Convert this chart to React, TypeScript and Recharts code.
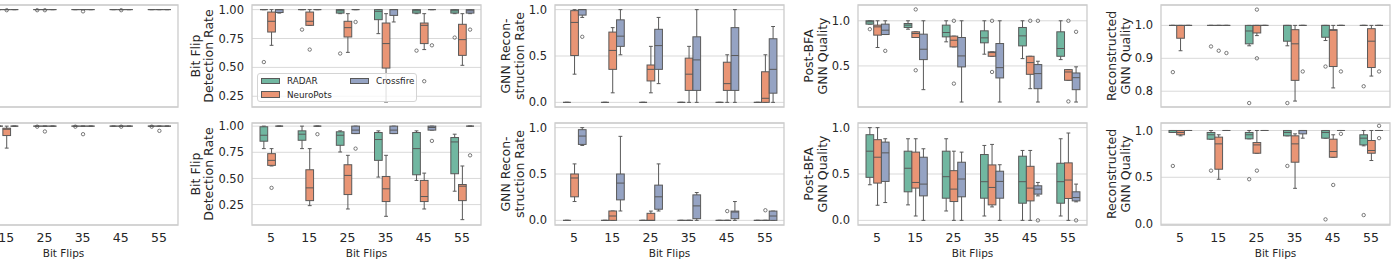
import React from 'react';
import { ComposedChart, Bar, XAxis, YAxis, CartesianGrid, ReferenceArea } from 'recharts';

// box stats per flip count: [whisker low, q1, median, q3, whisker high, fliers]
type Box = [number, number, number, number, number, number[]];

const FLIPS = ['5', '15', '25', '35', '45', '55'];
const SERIES = ['RADAR', 'NeuroPots', 'Crossfire'];
const COLORS = ['#71b7a1', '#e99575', '#95a3c3'];

const FONT = '"DejaVu Sans", sans-serif';
const TEXT = '#262626';
const INK = '#595959';
const GRID = '#d9d9d9';
const EDGE = '#cccccc';
const BOX_W = 7.7;

// column 0 (cut off at the left edge)
const c0TopRadar: Box[] = [[1, 1, 1, 1, 1, []], [1, 1, 1, 1, 1, []], [1, 1, 1, 1, 1, [0.995]], [1, 1, 1, 1, 1, []], [1, 1, 1, 1, 1, []], [1, 1, 1, 1, 1, []]];
const c0TopNeuro: Box[] = [[1, 1, 1, 1, 1, []], [1, 1, 1, 1, 1, [0.995]], [1, 1, 1, 1, 1, [0.995]], [1, 1, 1, 1, 1, [0.985]], [1, 1, 1, 1, 1, [0.995]], [1, 1, 1, 1, 1, []]];
const c0TopCross: Box[] = [[1, 1, 1, 1, 1, []], [1, 1, 1, 1, 1, []], [1, 1, 1, 1, 1, []], [1, 1, 1, 1, 1, []], [1, 1, 1, 1, 1, []], [1, 1, 1, 1, 1, []]];
const c0BotRadar: Box[] = [[1, 1, 1, 1, 1, []], [1, 1, 1, 1, 1, []], [1, 1, 1, 1, 1, [0.995]], [1, 1, 1, 1, 1, [0.995]], [1, 1, 1, 1, 1, []], [1, 1, 1, 1, 1, [0.995]]];
const c0BotNeuro: Box[] = [[1, 1, 1, 1, 1, []], [0.79, 0.91, 0.97, 0.98, 1, []], [1, 1, 1, 1, 1, [0.949]], [1, 1, 1, 1, 1, [0.923]], [1, 1, 1, 1, 1, [0.995]], [1, 1, 1, 1, 1, [0.955]]];
const c0BotCross: Box[] = [[1, 1, 1, 1, 1, []], [1, 1, 1, 1, 1, []], [1, 1, 1, 1, 1, []], [1, 1, 1, 1, 1, []], [1, 1, 1, 1, 1, []], [1, 1, 1, 1, 1, []]];

// Bit Flip Detection Rate
const detTopRadar: Box[] = [[1, 1, 1, 1, 1, [0.546]], [1, 1, 1, 1, 1, [0.827]], [0.965, 0.97, 0.99, 1, 1, [0.62]], [0.792, 0.913, 0.985, 1, 1, []], [0.965, 0.97, 0.99, 1, 1, [0.645]], [0.965, 0.97, 0.99, 1, 1, [0.758]]];
const detTopNeuro: Box[] = [[0.691, 0.806, 0.899, 0.979, 1, []], [0.864, 0.864, 0.899, 0.979, 1, [0.654]], [0.63, 0.763, 0.844, 0.899, 0.965, []], [0.2, 0.494, 0.706, 0.884, 0.965, []], [0.654, 0.706, 0.864, 0.884, 0.965, [0.38]], [0.518, 0.604, 0.74, 0.873, 0.965, []]];
const detTopCross: Box[] = [[0.97, 0.975, 1, 1, 1, []], [1, 1, 1, 1, 1, []], [1, 1, 1, 1, 1, [0.893]], [0.893, 0.95, 1, 1, 1, []], [1, 1, 1, 1, 1, [0.691]], [0.965, 0.97, 0.99, 1, 1, [0.827]]];
const detBotRadar: Box[] = [[0.785, 0.856, 0.913, 0.994, 1, []], [0.785, 0.865, 0.923, 0.955, 1, []], [0.753, 0.817, 0.913, 0.946, 0.955, []], [0.513, 0.673, 0.872, 0.939, 0.955, []], [0.481, 0.535, 0.785, 0.939, 0.955, []], [0.378, 0.545, 0.849, 0.891, 0.923, []]];
const detBotNeuro: Box[] = [[0.619, 0.625, 0.673, 0.737, 0.785, [0.41]], [0.24, 0.288, 0.41, 0.583, 0.785, []], [0.208, 0.346, 0.529, 0.631, 0.721, []], [0.138, 0.279, 0.401, 0.519, 0.721, []], [0.208, 0.279, 0.327, 0.481, 0.551, []], [0.106, 0.288, 0.426, 0.442, 0.619, []]];
const detBotCross: Box[] = [[1, 1, 1, 1, 1, []], [1, 1, 1, 1, 1, [0.923]], [0.929, 0.929, 0.962, 1, 1, [0.785]], [0.929, 0.929, 0.962, 1, 1, []], [0.962, 0.962, 0.987, 1, 1, [0.859]], [1, 1, 1, 1, 1, [0.721]]];

// GNN Reconstruction Rate
const recTopRadar: Box[] = [[0, 0, 0, 0, 0, []], [0, 0, 0, 0, 0, []], [0, 0, 0, 0, 0, []], [0, 0, 0, 0, 0, []], [0, 0, 0, 0, 0, []], [0, 0, 0, 0, 0, []]];
const recTopNeuro: Box[] = [[0.304, 0.505, 0.862, 0.989, 1, []], [0.103, 0.356, 0.56, 0.758, 0.806, []], [0.103, 0.231, 0.356, 0.403, 0.604, []], [0, 0.129, 0.304, 0.477, 0.604, []], [0, 0.129, 0.202, 0.433, 0.513, []], [0, 0, 0.044, 0.33, 0.513, []]];
const recTopCross: Box[] = [[0.916, 0.941, 1, 1, 1, [0.707]], [0.513, 0.604, 0.714, 0.89, 1, []], [0.202, 0.356, 0.612, 0.788, 0.916, []], [0, 0.129, 0.458, 0.707, 1, []], [0, 0.129, 0.505, 0.806, 1, []], [0, 0.099, 0.356, 0.686, 0.818, []]];
const recBotRadar: Box[] = [[0, 0, 0, 0, 0, []], [0, 0, 0, 0, 0, []], [0, 0, 0, 0, 0, []], [0, 0, 0, 0, 0, []], [0, 0, 0, 0, 0, []], [0, 0, 0, 0, 0, []]];
const recBotNeuro: Box[] = [[0.203, 0.254, 0.457, 0.5, 0.609, []], [0, 0, 0.047, 0.101, 0.101, []], [0, 0, 0, 0.076, 0.1, []], [0, 0, 0, 0, 0, []], [0, 0, 0, 0, 0, [0.1]], [0, 0, 0, 0, 0, [0.109]]];
const recBotCross: Box[] = [[0.808, 0.819, 0.909, 0.978, 1, []], [0.101, 0.221, 0.402, 0.5, 0.906, []], [0.101, 0.12, 0.254, 0.38, 0.609, []], [0, 0.018, 0.156, 0.275, 0.3, []], [0, 0.018, 0.09, 0.1, 0.203, []], [0, 0, 0.047, 0.1, 0.1, []]];

// Post-BFA GNN Quality
const postTopRadar: Box[] = [[0.963, 0.963, 0.989, 1, 1, [0.907]], [0.907, 0.926, 0.952, 0.97, 1, []], [0.767, 0.822, 0.87, 0.952, 1, []], [0.63, 0.756, 0.811, 0.889, 1, []], [0.581, 0.722, 0.833, 0.926, 1, []], [0.57, 0.607, 0.693, 0.878, 1, []]];
const postTopNeuro: Box[] = [[0.704, 0.841, 0.933, 0.952, 1, []], [0.815, 0.815, 0.859, 0.878, 0.878, [1.126, 0.452]], [0.711, 0.711, 0.785, 0.83, 0.83, [1, 0.304]], [0.607, 0.607, 0.648, 0.656, 0.656, [1, 0.433]], [0.248, 0.407, 0.537, 0.607, 0.607, [1]], [0.341, 0.341, 0.433, 0.459, 0.459, [1, 0.107]]];
const postTopCross: Box[] = [[0.848, 0.848, 0.896, 0.963, 1, [0.667]], [0.237, 0.57, 0.685, 0.852, 1, []], [0.1, 0.489, 0.611, 0.815, 1, []], [0.1, 0.367, 0.481, 0.748, 1, []], [0.1, 0.248, 0.415, 0.515, 0.552, [1]], [0.1, 0.237, 0.37, 0.422, 0.49, [0.878]]];
const postBotRadar: Box[] = [[0.384, 0.464, 0.746, 0.924, 1, []], [0.167, 0.308, 0.562, 0.746, 0.88, []], [0.101, 0.239, 0.471, 0.746, 0.88, []], [0.047, 0.239, 0.417, 0.71, 0.808, []], [0, 0.185, 0.417, 0.692, 0.754, []], [0.047, 0.185, 0.417, 0.616, 0.88, []]];
const postBotNeuro: Box[] = [[0.163, 0.402, 0.681, 0.87, 1, []], [0.047, 0.348, 0.409, 0.736, 0.88, []], [0, 0.203, 0.337, 0.536, 0.746, []], [0.145, 0.167, 0.355, 0.598, 0.819, []], [0, 0.21, 0.348, 0.583, 0.754, []], [0, 0.236, 0.435, 0.62, 0.942, []]];
const postBotCross: Box[] = [[0.192, 0.42, 0.728, 0.844, 0.88, []], [0, 0.264, 0.391, 0.681, 0.772, []], [0, 0.254, 0.446, 0.627, 0.736, []], [0, 0.239, 0.42, 0.53, 0.6, []], [0.264, 0.283, 0.337, 0.373, 0.409, [0]], [0.2, 0.21, 0.246, 0.308, 0.391, [0]]];

// Reconstructed GNN Quality
const rgqTopRadar: Box[] = [[1, 1, 1, 1, 1, [0.858]], [1, 1, 1, 1, 1, [0.936]], [0.938, 0.944, 0.983, 1, 1, [0.764]], [0.938, 0.952, 1, 1, 1, [0.764]], [0.954, 0.964, 1, 1, 1, [0.875]], [1, 1, 1, 1, 1, [0.815]]];
const rgqTopNeuro: Box[] = [[0.923, 0.961, 1, 1, 1, []], [1, 1, 1, 1, 1, [0.923]], [0.969, 0.977, 1, 1, 1, [1.048, 0.9]], [0.77, 0.833, 0.944, 0.987, 1, []], [0.81, 0.875, 0.985, 0.987, 1, []], [0.846, 0.872, 0.952, 0.99, 1, []]];
const rgqTopCross: Box[] = [[1, 1, 1, 1, 1, []], [1, 1, 1, 1, 1, [0.916]], [1, 1, 1, 1, 1, []], [1, 1, 1, 1, 1, [0.86]], [1, 1, 1, 1, 1, [0.86]], [1, 1, 1, 1, 1, [0.86]]];
const rgqBotRadar: Box[] = [[0.979, 0.979, 1, 1, 1, [0.621]], [0.907, 0.907, 0.954, 0.979, 1, [0.571]], [0.911, 0.911, 0.954, 0.979, 1, [0.479]], [0.943, 0.943, 0.979, 1, 1, [0.621]], [0.918, 0.918, 0.979, 1, 1, [0.05]], [0.836, 0.846, 0.918, 0.954, 1, [0.096]]];
const rgqBotNeuro: Box[] = [[0.943, 0.954, 0.979, 1, 1, []], [0.479, 0.586, 0.857, 0.929, 0.954, []], [0.757, 0.757, 0.846, 0.871, 1, [0.571]], [0.382, 0.661, 0.857, 0.943, 0.964, []], [0.714, 0.714, 0.775, 0.907, 0.954, [0.418]], [0.679, 0.757, 0.786, 0.893, 1, []]];
const rgqBotCross: Box[] = [[1, 1, 1, 1, 1, []], [1, 1, 1, 1, 1, []], [1, 1, 1, 1, 1, []], [0.918, 0.964, 1, 1, 1, []], [1, 1, 1, 1, 1, [0.964]], [1, 1, 1, 1, 1, [1.05, 0.918]]];

const COL_LEFT = [-51, 252, 555, 858, 1161];

const PANELS = [
  { col: 0, bottom: false, series: [c0TopRadar, c0TopNeuro, c0TopCross], domain: [0.157, 1.04], ticks: [0.5, 1], digits: 2, label: null },
  { col: 0, bottom: true, series: [c0BotRadar, c0BotNeuro, c0BotCross], domain: [0.055, 1.03], ticks: [0.25, 0.5, 0.75, 1], digits: 2, label: null },
  { col: 1, bottom: false, series: [detTopRadar, detTopNeuro, detTopCross], domain: [0.157, 1.04], ticks: [0.25, 0.5, 0.75, 1], digits: 2, label: ['Bit Flip', 'Detection Rate'] },
  { col: 1, bottom: true, series: [detBotRadar, detBotNeuro, detBotCross], domain: [0.055, 1.03], ticks: [0.25, 0.5, 0.75, 1], digits: 2, label: ['Bit Flip', 'Detection Rate'] },
  { col: 2, bottom: false, series: [recTopRadar, recTopNeuro, recTopCross], domain: [-0.05, 1.05], ticks: [0, 0.5, 1], digits: 1, label: ['GNN Recon-', 'struction Rate'] },
  { col: 2, bottom: true, series: [recBotRadar, recBotNeuro, recBotCross], domain: [-0.05, 1.05], ticks: [0, 0.5, 1], digits: 1, label: ['GNN Recon-', 'struction Rate'] },
  { col: 3, bottom: false, series: [postTopRadar, postTopNeuro, postTopCross], domain: [0.045, 1.175], ticks: [0.5, 1], digits: 1, label: ['Post-BFA', 'GNN Quality'] },
  { col: 3, bottom: true, series: [postBotRadar, postBotNeuro, postBotCross], domain: [-0.05, 1.05], ticks: [0, 0.5, 1], digits: 1, label: ['Post-BFA', 'GNN Quality'] },
  { col: 4, bottom: false, series: [rgqTopRadar, rgqTopNeuro, rgqTopCross], domain: [0.752, 1.062], ticks: [0.8, 0.9, 1], digits: 1, label: ['Reconstructed', 'GNN Quality'] },
  { col: 4, bottom: true, series: [rgqBotRadar, rgqBotNeuro, rgqBotCross], domain: [-0.01, 1.08], ticks: [0, 0.5, 1], digits: 1, label: ['Reconstructed', 'GNN Quality'] },
];

function buildRows(series: Box[][]) {
  return FLIPS.map((flip, i) => {
    const row: Record<string, any> = { flip };
    series.forEach((s, k) => {
      const [lo, q1, med, q3, hi, out] = s[i];
      row[`w${k}`] = [lo, hi];
      row[`b${k}`] = [q1, q3];
      row[`m${k}`] = [med, med];
      out.forEach((o, j) => {
        row[`o${k}_${j}`] = [o, o];
      });
    });
    return row;
  });
}

const ok = (p: any, key: string) =>
  p.payload && Array.isArray(p.payload[key]) && [p.x, p.y, p.width, p.height].every((v: any) => Number.isFinite(v));

function Whisker(p: any, key: string) {
  if (!ok(p, key)) return <g />;
  const top = Math.min(p.y, p.y + p.height);
  const bot = Math.max(p.y, p.y + p.height);
  const cx = p.x + p.width / 2;
  const cap = p.width / 4;
  return (
    <g stroke={INK} strokeWidth={1}>
      <line x1={cx} x2={cx} y1={top} y2={bot} />
      <line x1={cx - cap} x2={cx + cap} y1={top} y2={top} />
      <line x1={cx - cap} x2={cx + cap} y1={bot} y2={bot} />
    </g>
  );
}

function BoxRect(p: any, key: string, color: string) {
  if (!ok(p, key)) return <g />;
  const top = Math.min(p.y, p.y + p.height);
  const h = Math.abs(p.height);
  if (h < 0.5) return <line x1={p.x} x2={p.x + p.width} y1={top} y2={top} stroke={INK} strokeWidth={1} />;
  return <rect x={p.x} y={top} width={p.width} height={h} fill={color} stroke={INK} strokeWidth={1} />;
}

function Median(p: any, key: string) {
  if (!ok(p, key)) return <g />;
  return <line x1={p.x} x2={p.x + p.width} y1={p.y} y2={p.y} stroke={INK} strokeWidth={1} />;
}

function Flier(p: any, key: string) {
  if (!ok(p, key)) return <g />;
  return <circle cx={p.x + p.width / 2} cy={p.y} r={1.7} fill="none" stroke={INK} strokeWidth={0.8} />;
}

function YLabel({ viewBox, lines, dx }: any) {
  if (!viewBox || !lines) return null;
  const plotLeft = viewBox.x + viewBox.width;
  const cy = viewBox.y + viewBox.height / 2;
  return (
    <g>
      {lines.map((t: string, i: number) => {
        const cx = plotLeft + dx[i];
        return (
          <text key={t} x={cx} y={cy} transform={`rotate(-90 ${cx} ${cy})`} textAnchor="middle" dominantBaseline="central"
            fontSize={12.5} fill={TEXT} fontFamily={FONT}>
            {t}
          </text>
        );
      })}
    </g>
  );
}

function XLabel({ viewBox }: any) {
  if (!viewBox) return null;
  return (
    <text x={viewBox.x + viewBox.width / 2} y={viewBox.y + 32} textAnchor="middle" fontSize={10.5} fill={TEXT} fontFamily={FONT}>
      Bit Flips
    </text>
  );
}

function Panel({ cfg }: any) {
  const rows = buildRows(cfg.series);
  const plotLeft = COL_LEFT[cfg.col];
  const dx = cfg.col === 1 ? [-57, -44] : [-50, -36];
  const h = cfg.bottom ? 145 : 110;
  const visibleTicks = cfg.col > 0;
  return (
    <div style={{ position: 'absolute', left: plotLeft - 75, top: cfg.bottom ? 118 : 0 }}>
      <ComposedChart width={306} height={h} data={rows} barGap={0}
        margin={{ top: 5, right: 2, bottom: cfg.bottom ? 0 : 3, left: 0 }}>
        <CartesianGrid vertical={false} stroke={GRID} strokeWidth={1} />
        <XAxis dataKey="flip" hide={!cfg.bottom} height={38} tickLine={false} axisLine={false} interval={0}
          tick={{ fontSize: 12.5, fill: TEXT, fontFamily: FONT }} label={{ content: (lp: any) => <XLabel {...lp} /> }} />
        {['w', 'm', 'o0', 'o1'].map(id => (
          <XAxis key={id} xAxisId={id} dataKey="flip" hide />
        ))}
        <YAxis width={75} type="number" domain={cfg.domain} ticks={cfg.ticks} allowDataOverflow interval={0}
          tickLine={false} axisLine={false} tickFormatter={(v: number) => v.toFixed(cfg.digits)}
          tick={visibleTicks ? { fontSize: 11.5, fill: TEXT, fontFamily: FONT } : false}
          label={{ content: (lp: any) => <YLabel {...lp} lines={cfg.label} dx={dx} /> }} />
        <ReferenceArea x1={FLIPS[0]} x2={FLIPS[FLIPS.length - 1]} y1={cfg.domain[0]} y2={cfg.domain[1]}
          ifOverflow="visible" fill="none" fillOpacity={0} stroke={EDGE} strokeWidth={1.3} />
        {[0, 1, 2].map(k => (
          <Bar key={`w${k}`} xAxisId="w" dataKey={`w${k}`} barSize={BOX_W} isAnimationActive={false}
            shape={(p: any) => Whisker(p, `w${k}`)} />
        ))}
        {[0, 1, 2].map(k => (
          <Bar key={`b${k}`} dataKey={`b${k}`} name={SERIES[k]} barSize={BOX_W} isAnimationActive={false}
            shape={(p: any) => BoxRect(p, `b${k}`, COLORS[k])} />
        ))}
        {[0, 1, 2].map(k => (
          <Bar key={`m${k}`} xAxisId="m" dataKey={`m${k}`} barSize={BOX_W} isAnimationActive={false}
            shape={(p: any) => Median(p, `m${k}`)} />
        ))}
        {[0, 1].map(j =>
          [0, 1, 2].map(k => (
            <Bar key={`o${k}_${j}`} xAxisId={`o${j}`} dataKey={`o${k}_${j}`} barSize={BOX_W} isAnimationActive={false}
              shape={(p: any) => Flier(p, `o${k}_${j}`)} />
          )),
        )}
      </ComposedChart>
    </div>
  );
}

function LegendBox() {
  const items = [
    { name: SERIES[0], color: COLORS[0], left: 3, top: 7 },
    { name: SERIES[1], color: COLORS[1], left: 3, top: 20.5 },
    { name: SERIES[2], color: COLORS[2], left: 92, top: 7 },
  ];
  return (
    <div style={{
      position: 'absolute', left: 257, top: 73, width: 160, height: 29, boxSizing: 'border-box',
      border: '1px solid #d4d4d4', borderRadius: 3, background: 'rgba(255,255,255,0.8)',
    }}>
      {items.map(it => (
        <div key={it.name} style={{ position: 'absolute', left: it.left, top: it.top - 5, height: 10, display: 'flex', alignItems: 'center' }}>
          <span style={{ width: 19, height: 6.5, boxSizing: 'border-box', border: `1px solid ${INK}`, background: it.color, display: 'inline-block' }} />
          <span style={{ marginLeft: 7, fontSize: 8.8, lineHeight: '10px', color: TEXT, fontFamily: FONT }}>{it.name}</span>
        </div>
      ))}
    </div>
  );
}

export default function App() {
  return (
    <div style={{ position: 'absolute', left: 0, top: 0, width: 1395, height: 263, overflow: 'hidden', background: '#fff', fontFamily: FONT }}>
      {PANELS.map((cfg, i) => (
        <Panel key={i} cfg={cfg} />
      ))}
      <LegendBox />
    </div>
  );
}
